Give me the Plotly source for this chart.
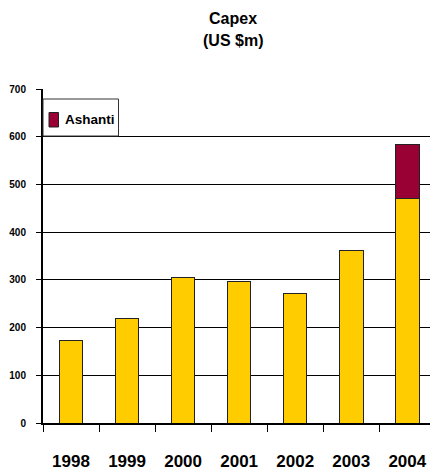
import plotly.graph_objects as go

years = ["1998", "1999", "2000", "2001", "2002", "2003", "2004"]
base_capex = [173, 220, 304, 297, 271, 362, 470]
ashanti = [None, None, None, None, None, None, 113]

y_ticks = [0, 100, 200, 300, 400, 500, 600, 700]

YELLOW = "#FFCC00"
MAROON = "#990033"
FONT = "Liberation Sans, Arial, sans-serif"

# plot area in pixels: x 43..430, y 89..423
PW, PH = 387.0, 334.0


def px_x(p):
    return (p - 43) / PW


def px_y(p):
    return (423 - p) / PH


fig = go.Figure()
fig.add_trace(go.Bar(
    x=years, y=base_capex, name="Capex",
    marker=dict(color=YELLOW, line=dict(color="#222222", width=1)),
    width=0.42, showlegend=False,
))
fig.add_trace(go.Bar(
    x=years, y=ashanti, name="Ashanti",
    marker=dict(color=MAROON, line=dict(color="#222222", width=1)),
    width=0.42, showlegend=False,
))

# Title lines
fig.add_annotation(text="<b>Capex</b>", xref="paper", yref="paper",
                   x=px_x(233), y=px_y(18), xanchor="center", yanchor="middle",
                   showarrow=False, font=dict(family=FONT, size=16, color="black"))
fig.add_annotation(text="<b>(US $m)</b>", xref="paper", yref="paper",
                   x=px_x(233), y=px_y(40), xanchor="center", yanchor="middle",
                   showarrow=False, font=dict(family=FONT, size=16, color="black"))

# Legend box for the Ashanti series
fig.add_shape(type="rect", xref="paper", yref="paper",
              x0=px_x(43), x1=px_x(118.5), y0=px_y(136), y1=px_y(99),
              line=dict(color="#333333", width=1), fillcolor="white", layer="above")
fig.add_shape(type="rect", xref="paper", yref="paper",
              x0=px_x(49), x1=px_x(58.5), y0=px_y(127), y1=px_y(112.5),
              line=dict(color="#222222", width=1), fillcolor=MAROON, layer="above")
fig.add_annotation(text="<b>Ashanti</b>", xref="paper", yref="paper",
                   x=px_x(62.5), y=px_y(119), xanchor="left", yanchor="middle",
                   showarrow=False, font=dict(family=FONT, size=13.5, color="black"))

fig.update_layout(
    width=430, height=472,
    margin=dict(l=43, r=0, t=89, b=49),
    barmode="stack",
    paper_bgcolor="white", plot_bgcolor="white",
    font=dict(family=FONT, color="black"),
    showlegend=False,
    xaxis=dict(
        type="category", range=[-0.5, 6.405],
        showgrid=False, showline=True, linecolor="black", linewidth=2,
        ticks="outside", ticklen=7, tickcolor="black", tickwidth=1,
        tickson="boundaries",
        tickfont=dict(size=17, weight="bold", color="black"),
        ticklabelstandoff=22,
    ),
    yaxis=dict(
        range=[0, 700], tickvals=y_ticks,
        showgrid=True, gridcolor="black", gridwidth=1,
        showline=True, linecolor="black", linewidth=2,
        ticks="outside", ticklen=5, tickcolor="black",
        tickfont=dict(size=10, weight="bold", color="black"),
        ticklabelstandoff=8, zeroline=False,
    ),
)

fig.write_html("out.html")
